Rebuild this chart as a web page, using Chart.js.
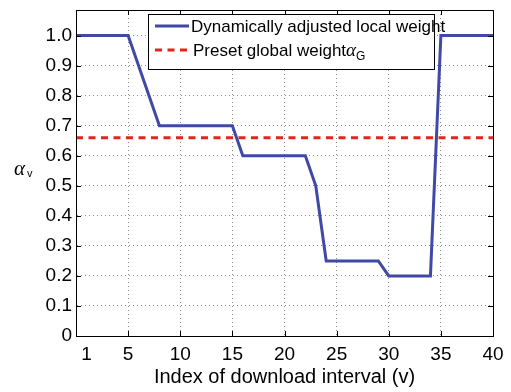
<!DOCTYPE html>
<html>
<head>
<meta charset="utf-8">
<script src="https://cdn.jsdelivr.net/npm/chart.js@4/dist/chart.umd.min.js"></script>
<style>
  html, body { margin: 0; padding: 0; background: #fff; }
  #wrap { width: 511px; height: 392px; }
</style>
</head>
<body>
<div id="wrap"><canvas id="myChart" width="511" height="392"></canvas></div>
<script>
// breakpoints of the local weight curve
var localX = [0, 5, 8, 15, 16, 22, 23, 24, 29, 30, 34, 35, 40];
var localY = [1.0, 1.0, 0.7, 0.7, 0.6, 0.6, 0.5, 0.25, 0.25, 0.2, 0.2, 1.0, 1.0];
var globalX = [0, 40];
var globalY = [0.66, 0.66];
var xTicks = [1, 5, 10, 15, 20, 25, 30, 35, 40];
var yTicks = [0, 0.1, 0.2, 0.3, 0.4, 0.5, 0.6, 0.7, 0.8, 0.9, 1.0];
var labels = ['Dynamically adjusted local weight', 'Preset global weight'];

var FONT = '"Liberation Sans", Arial, sans-serif';
var BLUE = '#4149a6';
var RED = '#e2261b';

// box, inward ticks, legend and y label in MATLAB style
var matlabBox = {
    id: 'matlabBox',
    afterDraw: function(chart) {
        var ctx = chart.ctx;
        var a = chart.chartArea;
        var xs = chart.scales.x, ys = chart.scales.y;
        ctx.save();
        ctx.strokeStyle = '#000';
        ctx.lineWidth = 1;
        ctx.strokeRect(Math.round(a.left) + 0.5, Math.round(a.top) + 0.5,
                       Math.round(a.right - a.left), Math.round(a.bottom - a.top));
        ctx.beginPath();
        xTicks.forEach(function(v) {
            if (v === 1) return;
            var px = Math.round(xs.getPixelForValue(v)) + 0.5;
            ctx.moveTo(px, a.bottom); ctx.lineTo(px, a.bottom - 5);
            ctx.moveTo(px, a.top); ctx.lineTo(px, a.top + 5);
        });
        yTicks.forEach(function(v) {
            var py = Math.round(ys.getPixelForValue(v)) + 0.5;
            ctx.moveTo(a.left, py); ctx.lineTo(a.left + 5, py);
            ctx.moveTo(a.right, py); ctx.lineTo(a.right - 5, py);
        });
        ctx.stroke();

        // legend
        var lx = 148, ly = 14, lw = 286, lh = 55;
        ctx.fillStyle = '#fff';
        ctx.fillRect(lx, ly, lw, lh);
        ctx.strokeStyle = '#000';
        ctx.strokeRect(lx + 0.5, ly + 0.5, lw, lh);
        var ds = chart.data.datasets;
        ctx.lineWidth = 3;
        ctx.strokeStyle = ds[0].borderColor;
        ctx.beginPath(); ctx.moveTo(155, 26); ctx.lineTo(189, 26); ctx.stroke();
        ctx.strokeStyle = ds[1].borderColor;
        ctx.setLineDash(ds[1].borderDash);
        ctx.beginPath(); ctx.moveTo(155, 50); ctx.lineTo(189, 50); ctx.stroke();
        ctx.setLineDash([]);
        ctx.fillStyle = '#000';
        ctx.textBaseline = 'alphabetic';
        ctx.textAlign = 'left';
        ctx.font = '17px ' + FONT;
        ctx.fillText(ds[0].label, 191, 32);
        ctx.fillText(ds[1].label, 193, 56);
        var w = ctx.measureText(ds[1].label).width;
        ctx.font = 'italic 19px "Liberation Serif", serif';
        ctx.fillText('\u03b1', 193 + w, 56);
        var wa = ctx.measureText('\u03b1').width;
        ctx.font = '12px ' + FONT;
        ctx.fillText('G', 193 + w + wa, 60);

        // y axis label
        ctx.font = 'italic 21px "Liberation Serif", serif';
        ctx.fillText('\u03b1', 14, 175);
        ctx.font = '11px ' + FONT;
        ctx.fillText('v', 27, 177);
        ctx.restore();
    }
};

window.addEventListener('load', function() {
    const ctx = document.getElementById('myChart').getContext('2d');
    const chart = new Chart(ctx, {
        type: 'line',
        data: {
            datasets: [
            {
                label: labels[0],
                data: localX.map((x, i) => ({ x: x, y: localY[i] })),
                borderColor: BLUE,
                borderWidth: 3,
                pointRadius: 0,
                fill: false
            },
            {
                label: labels[1],
                data: globalX.map((x, i) => ({ x: x, y: globalY[i] })),
                borderColor: RED,
                borderWidth: 3,
                borderDash: [7, 5.5],
                pointRadius: 0,
                fill: false
            }
            ]
        },
        plugins: [matlabBox],
        options: {
            responsive: false,
            animation: false,
            layout: { padding: { left: 0, right: 18, top: 10, bottom: 0 } },
            plugins: { legend: { display: false }, tooltip: { enabled: false } },
            scales: {
                x: {
                    type: 'linear', min: 0, max: 40,
                    afterBuildTicks: s => { s.ticks = xTicks.map(v => ({ value: v })); },
                    afterFit: s => { s.height = 56; s.paddingLeft = 0; s.paddingRight = 0; },
                    grid: {
                        drawTicks: false,
                        color: c => (c.tick && c.tick.value === 1) ? 'rgba(0,0,0,0)' : '#8a8a8a'
                    },
                    border: { color: '#000', width: 1, dash: [1, 3] },
                    ticks: {
                        autoSkip: false, maxRotation: 0, padding: 7, color: '#000',
                        font: { family: FONT, size: 19 }
                    },
                    title: {
                        display: true, text: 'Index of download interval (v)', color: '#000',
                        font: { family: FONT, size: 20 }, padding: { top: 0, bottom: 3 }
                    }
                },
                y: {
                    min: 0, max: 1.085,
                    afterBuildTicks: s => { s.ticks = yTicks.map(v => ({ value: v })); },
                    afterFit: s => { s.width = 76; s.paddingTop = 0; s.paddingBottom = 0; },
                    grid: { drawTicks: false, color: '#8a8a8a' },
                    border: { color: '#000', width: 1, dash: [1, 3] },
                    ticks: {
                        padding: 4, color: '#000',
                        font: { family: FONT, size: 19 },
                        callback: v => v === 0 ? '0' : v.toFixed(1)
                    }
                }
            }
        }
    });
});
</script>
</body>
</html>
